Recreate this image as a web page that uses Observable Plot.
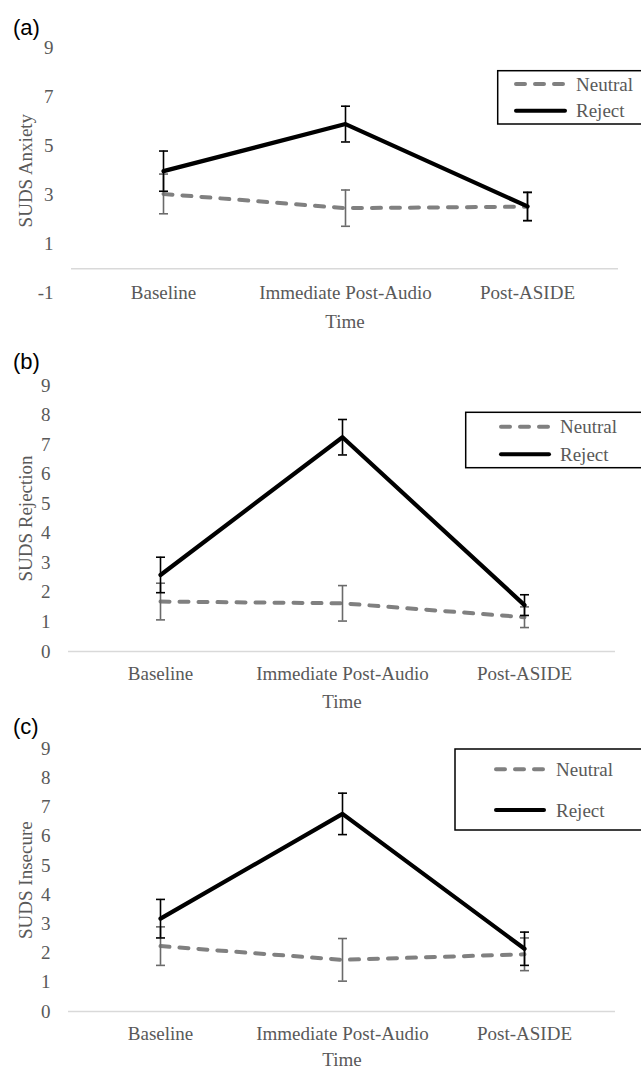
<!DOCTYPE html>
<html><head><meta charset="utf-8">
<script src="https://cdn.jsdelivr.net/npm/d3@7"></script>
<script src="https://cdn.jsdelivr.net/npm/@observablehq/plot@0.6"></script>
<style>
html,body{margin:0;padding:0;background:#fff;}
#root{position:relative;width:641px;height:1070px;overflow:hidden;background:#fff;}
.panel{position:absolute;left:0;}
.plabel{position:absolute;left:13px;font-family:"Liberation Sans",Arial,sans-serif;font-size:22px;line-height:1;color:#000;}
#legends{position:absolute;left:0;top:0;}
</style></head><body><div id="root"></div>
<script>
// ---- data ----
const categories = ["Baseline", "Immediate Post-Audio", "Post-ASIDE"];
const seriesNames = ["Neutral", "Reject"];

const anxietyNeutral = [3.05, 2.47, 2.53];
const anxietyNeutralErr = [0.81, 0.74, 0.57];
const anxietyReject = [3.98, 5.90, 2.54];
const anxietyRejectErr = [0.82, 0.73, 0.58];

const rejectionNeutral = [1.69, 1.63, 1.16];
const rejectionNeutralErr = [0.62, 0.60, 0.35];
const rejectionReject = [2.59, 7.25, 1.57];
const rejectionRejectErr = [0.60, 0.60, 0.35];

const insecureNeutral = [2.24, 1.77, 1.96];
const insecureNeutralErr = [0.66, 0.73, 0.56];
const insecureReject = [3.18, 6.77, 2.15];
const insecureRejectErr = [0.66, 0.71, 0.57];

const yTicksA = [-1, 1, 3, 5, 7, 9];
const yTicksBC = [0, 1, 2, 3, 4, 5, 6, 7, 8, 9];

// ---- layout ----
const panels = [
  {tag: "(a)", tagTop: 17, top: 0, height: 340, mt: 47.6, mb: 47.3, ml: 71, mr: 23, domain: [-1, 9], ticks: yTicksA,
   yLabel: "SUDS Anxiety", neutral: anxietyNeutral, nErr: anxietyNeutralErr, reject: anxietyReject, rErr: anxietyRejectErr,
   xPad: -8, xLabOff: 34.5, yLabOff: 53,
   legend: {left: 497.7, top: 70.7, h: 53.3, lx1: 516, lx2: 565, tx: 576, ny: 84, ry: 110.7}},
  {tag: "(b)", tagTop: 350.5, top: 340, height: 360, mt: 45, mb: 49, ml: 68, mr: 26, domain: [0, 9], ticks: yTicksBC,
   yLabel: "SUDS Rejection", neutral: rejectionNeutral, nErr: rejectionNeutralErr, reject: rejectionReject, rErr: rejectionRejectErr,
   xPad: 15, xLabOff: 56.7, yLabOff: 50,
   legend: {left: 465.7, top: 412.3, h: 55.4, lx1: 501, lx2: 549, tx: 560, ny: 426.7, ry: 454.3}},
  {tag: "(c)", tagTop: 715.5, top: 700, height: 370, mt: 48.3, mb: 59, ml: 68, mr: 26, domain: [0, 9], ticks: yTicksBC,
   yLabel: "SUDS Insecure", neutral: insecureNeutral, nErr: insecureNeutralErr, reject: insecureReject, rErr: insecureRejectErr,
   xPad: 15, xLabOff: 54.5, yLabOff: 50,
   legend: {left: 455, top: 749, h: 81, lx1: 496, lx2: 544, tx: 556, ny: 769.3, ry: 810}}
];

const NEUTRAL = "#808080", NEUTRAL_ERR = "#6a6a6a", REJECT = "#000000";
const root = document.getElementById("root");

// horizontal cap symbol for error bars
const capSymbol = {
  draw(context, size) {
    const r = Math.sqrt(size / Math.PI);
    context.moveTo(-r, 0);
    context.lineTo(r, 0);
  }
};

function rows(vals, errs) {
  return categories.map((c, i) => ({cat: c, v: vals[i], e: errs[i]}));
}

function errMarks(data, color) {
  return [
    Plot.ruleX(data, {x: "cat", y1: d => d.v - d.e, y2: d => d.v + d.e, stroke: color, strokeWidth: 1.6}),
    Plot.dot(data, {x: "cat", y: d => d.v - d.e, symbol: capSymbol, r: 4.5, fill: "none", stroke: color, strokeWidth: 1.6}),
    Plot.dot(data, {x: "cat", y: d => d.v + d.e, symbol: capSymbol, r: 4.5, fill: "none", stroke: color, strokeWidth: 1.6})
  ];
}

for (const p of panels) {
  const nData = rows(p.neutral, p.nErr);
  const rData = rows(p.reject, p.rErr);
  const chart = Plot.plot({
    width: 641,
    height: p.height,
    marginTop: p.mt,
    marginBottom: p.mb,
    marginLeft: p.ml,
    marginRight: p.mr,
    style: {fontFamily: '"Liberation Serif","Times New Roman",serif', fontSize: "19px", color: "#595959", background: "transparent", overflow: "visible"},
    x: {type: "point", domain: categories, padding: 0.5},
    y: {domain: p.domain},
    marks: [
      Plot.ruleY([0], {stroke: "#d9d9d9", strokeWidth: 1.5}),
      Plot.axisY({ticks: p.ticks, tickSize: 0, tickPadding: 18, tickFormat: d => String(d),
                  label: p.yLabel, labelAnchor: "center", labelOffset: p.yLabOff, labelArrow: "none"}),
      Plot.axisX({tickSize: 0, tickPadding: p.xPad, label: "Time", labelAnchor: "center",
                  labelOffset: p.xLabOff, labelArrow: "none"}),
      Plot.line(nData, {x: "cat", y: "v", stroke: NEUTRAL, strokeWidth: 4, strokeDasharray: "9,10", strokeLinecap: "round"}),
      ...errMarks(nData, NEUTRAL_ERR),
      Plot.line(rData, {x: "cat", y: "v", stroke: REJECT, strokeWidth: 4.2, strokeLinecap: "round"}),
      ...errMarks(rData, REJECT)
    ]
  });
  chart.classList.add("panel");
  chart.style.top = p.top + "px";
  chart.style.position = "absolute";
  root.appendChild(chart);

  const lab = document.createElement("div");
  lab.className = "plabel";
  lab.style.top = p.tagTop + "px";
  lab.textContent = p.tag;
  root.appendChild(lab);
}

// legends
const ns = "http://www.w3.org/2000/svg";
const lg = document.createElementNS(ns, "svg");
lg.setAttribute("id", "legends");
lg.setAttribute("width", 641);
lg.setAttribute("height", 1070);
function el(tag, attrs, text) {
  const e = document.createElementNS(ns, tag);
  for (const k in attrs) e.setAttribute(k, attrs[k]);
  if (text) e.textContent = text;
  lg.appendChild(e);
  return e;
}
for (const p of panels) {
  const L = p.legend;
  el("rect", {x: L.left, y: L.top, width: 200, height: L.h, fill: "#fff", stroke: "#000", "stroke-width": 1.5});
  const styles = [
    {y: L.ny, stroke: NEUTRAL, dash: "9,10"},
    {y: L.ry, stroke: REJECT, dash: null}
  ];
  styles.forEach((s, i) => {
    const a = {x1: L.lx1, x2: L.lx2, y1: s.y, y2: s.y, stroke: s.stroke, "stroke-width": 4, "stroke-linecap": "round"};
    if (s.dash) a["stroke-dasharray"] = s.dash;
    el("line", a);
    el("text", {x: L.tx, y: s.y + 6.5, fill: "#595959", "font-family": '"Liberation Serif","Times New Roman",serif', "font-size": 19}, seriesNames[i]);
  });
}
root.appendChild(lg);
</script>
</body></html>
